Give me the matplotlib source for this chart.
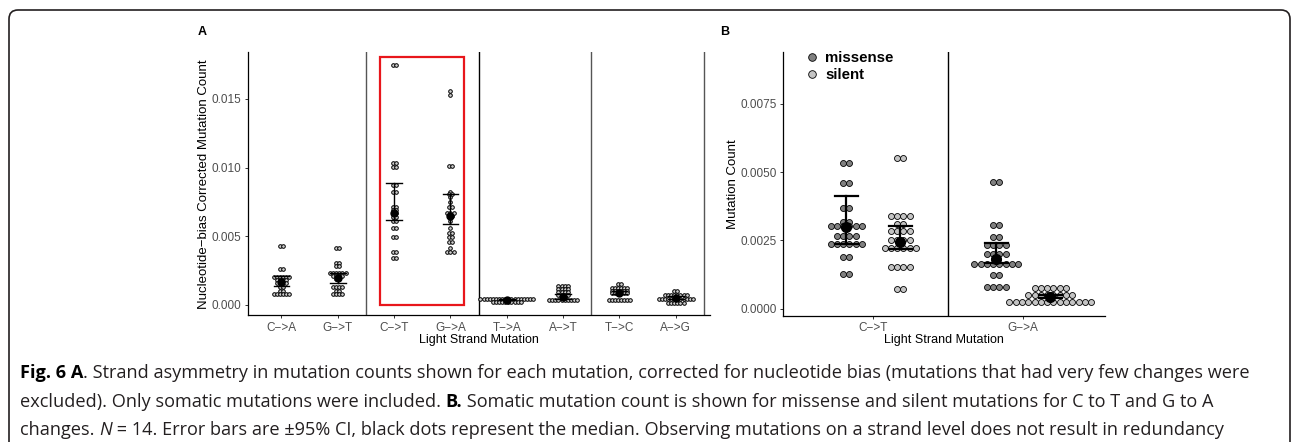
import matplotlib
matplotlib.use('Agg')
import matplotlib.pyplot as plt
from matplotlib.patches import FancyBboxPatch, Rectangle
from matplotlib.lines import Line2D
import numpy as np

# ---------------- data ----------------
a_categories = ["C\u2212>A", "G\u2212>T", "C\u2212>T", "G\u2212>A", "T\u2212>A", "A\u2212>T", "T\u2212>C", "A\u2212>G"]

a_CA_vals = [0.00432, 0.00260, 0.00206, 0.00182, 0.00158, 0.00133, 0.00104, 0.00080]
a_CA_counts = [2, 2, 6, 4, 4, 2, 2, 6]
a_GT_vals = [0.00417, 0.00308, 0.00284, 0.00235, 0.00211, 0.00190, 0.00133, 0.00104, 0.00080]
a_GT_counts = [2, 2, 2, 6, 4, 2, 4, 2, 4]
a_CT_vals = [0.01748, 0.01036, 0.01003, 0.00876, 0.00820, 0.00716, 0.00692, 0.00672,
             0.00643, 0.00614, 0.00563, 0.00493, 0.00384, 0.00344]
a_CT_counts = [2, 2, 2, 2, 2, 2, 2, 2, 2, 2, 2, 2, 2, 2]
a_GA_vals = [0.01561, 0.01529, 0.01014, 0.00825, 0.00808, 0.00789, 0.00748, 0.00711, 0.00668,
             0.00650, 0.00612, 0.00558, 0.00522, 0.00493, 0.00457, 0.00413, 0.00388]
a_GA_counts = [1, 1, 2, 1, 2, 1, 1, 2, 3, 2, 1, 1, 2, 2, 2, 1, 3]
a_TA_vals = [0.000415, 0.00020]
a_TA_counts = [18, 10]
a_AT_vals = [0.00136, 0.00114, 0.00092, 0.00073, 0.00056, 0.00036]
a_AT_counts = [4, 4, 4, 4, 2, 10]
a_TC_vals = [0.00153, 0.00122, 0.00105, 0.00088, 0.00040]
a_TC_counts = [2, 6, 6, 6, 8]
a_AG_vals = [0.00104, 0.00070, 0.00046, 0.00017]
a_AG_counts = [2, 8, 12, 6]

a_median = [0.00165, 0.00194, 0.00672, 0.00650, 0.00040, 0.00060, 0.00090, 0.00053]
a_ci_low = [0.00141, 0.00160, 0.00619, 0.00587, 0.00033, 0.00045, 0.00078, 0.00045]
a_ci_high = [0.00211, 0.00235, 0.00891, 0.00808, 0.00047, 0.00080, 0.00102, 0.00062]

b_categories = ["C\u2212>T", "G\u2212>A"]
b_groups = ["missense", "silent"]

b_mis_CT_vals = [0.00532, 0.00459, 0.00367, 0.00318, 0.00304, 0.00267, 0.00237, 0.00190, 0.00127]
b_mis_CT_counts = [2, 2, 2, 2, 6, 4, 6, 2, 2]
b_sil_CT_vals = [0.00550, 0.00339, 0.00310, 0.00285, 0.00251, 0.00222, 0.00154, 0.00073]
b_sil_CT_counts = [2, 4, 2, 4, 4, 6, 4, 2]
b_mis_GA_vals = [0.00465, 0.00306, 0.00263, 0.00233, 0.00199, 0.00162, 0.00123, 0.00080]
b_mis_GA_counts = [2, 2, 2, 4, 4, 8, 2, 4]
b_sil_GA_vals = [0.00074, 0.00050, 0.00026]
b_sil_GA_counts = [6, 8, 14]

b_mis_median = [0.00298, 0.00180]
b_mis_ci_low = [0.00237, 0.00166]
b_mis_ci_high = [0.00413, 0.00239]
b_sil_median = [0.00245, 0.00044]
b_sil_ci_low = [0.00219, 0.00038]
b_sil_ci_high = [0.00304, 0.00050]

caption_lines = [
    [("Fig. 6 A", "bold"), (". Strand asymmetry in mutation counts shown for each mutation, corrected for nucleotide bias (mutations that had very few changes were", "normal")],
    [("excluded). Only somatic mutations were included. ", "normal"), ("B.", "bold"), (" Somatic mutation count is shown for missense and silent mutations for C to T and G to A", "normal")],
    [("changes. ", "normal"), ("N", "italic"), (" = 14. Error bars are \u00b195% CI, black dots represent the median. Observing mutations on a strand level does not result in redundancy", "normal")],
]

# ---------------- figure ----------------
W, H = 1292, 442
fig = plt.figure(figsize=(W / 100, H / 100), dpi=100)
plt.rcParams['font.family'] = ['Liberation Sans', 'DejaVu Sans']

def ax_px(l, t, r, b):
    return fig.add_axes([l / W, 1 - b / H, (r - l) / W, (b - t) / H])

def dotstack(ax, xc, vals, counts, spacing, **kw):
    for v, n in zip(vals, counts):
        offs = (np.arange(n) - (n - 1) / 2.0) * spacing
        ax.plot(xc + offs, [v] * n, linestyle='none', marker='o', clip_on=False, **kw)

def style_axis(ax):
    for s in ['top', 'right']:
        ax.spines[s].set_visible(False)
    for s in ['left', 'bottom']:
        ax.spines[s].set_linewidth(0.9)
        ax.spines[s].set_color('black')
    ax.tick_params(axis='both', length=2.5, width=0.7, color='#333333',
                   labelsize=8.5, labelcolor='#4d4d4d', pad=2)

# border
border = FancyBboxPatch((9, -30), 1290 - 9, 442 - 10 + 30,
                        boxstyle="round,pad=0,rounding_size=9",
                        transform=None, fill=False, edgecolor='#231f20', linewidth=1.2)
fig.patches.append(border)

# ---------------- panel A ----------------
axA = ax_px(247.7, 52.3, 709.6, 315.3)
axA.set_xlim(0.4, 8.6)
axA.set_ylim(-0.00075, 0.0184)
style_axis(axA)
axA.set_xticks(np.arange(1, len(a_categories) + 1))
axA.set_xticklabels(a_categories)
axA.set_yticks([0.0, 0.005, 0.010, 0.015])
axA.set_yticklabels(["0.000", "0.005", "0.010", "0.015"])

for xv, col in zip([2.5, 4.5, 6.5, 8.5], ['#555555', 'black', '#555555', '#555555']):
    axA.axvline(xv, color=col, lw=1.0)

a_series = [(a_CA_vals, a_CA_counts), (a_GT_vals, a_GT_counts), (a_CT_vals, a_CT_counts),
            (a_GA_vals, a_GA_counts), (a_TA_vals, a_TA_counts), (a_AT_vals, a_AT_counts),
            (a_TC_vals, a_TC_counts), (a_AG_vals, a_AG_counts)]
for i, (vals, counts) in enumerate(a_series):
    xc = i + 1
    dotstack(axA, xc, vals, counts, 0.055, ms=2.6, mfc='#cfcfcf', mec='black', mew=0.7)
    axA.plot([xc, xc], [a_ci_low[i], a_ci_high[i]], color='black', lw=1.0, zorder=4)
    for yv in (a_ci_low[i], a_ci_high[i]):
        axA.plot([xc - 0.14, xc + 0.14], [yv, yv], color='black', lw=1.0, zorder=4)
    axA.plot([xc], [a_median[i]], marker='o', ms=5, color='black', zorder=5)

axA.add_patch(Rectangle((2.75, 0.0), 4.245 - 2.75, 0.01808, fill=False,
                        edgecolor='#e8161b', lw=1.6, zorder=6))

fig.text(204 / W, 1 - 184 / H, "Nucleotide\u2212bias Corrected Mutation Count",
         rotation=90, ha='center', va='center', fontsize=9.5, color='black')
fig.text(478.6 / W, 1 - 340 / H, "Light Strand Mutation", ha='center', va='center',
         fontsize=9, color='black')
fig.text(202 / W, 1 - 32 / H, "A", ha='center', va='center', fontsize=9, fontweight='bold')

# ---------------- panel B ----------------
axB = ax_px(783.3, 52.3, 1105, 315.7)
axB.set_xlim(0.4, 2.545)
axB.set_ylim(-0.000256, 0.00938)
style_axis(axB)
axB.set_xticks([1, 2])
axB.set_xticklabels(b_categories)
axB.set_yticks([0.0, 0.0025, 0.005, 0.0075])
axB.set_yticklabels(["0.0000", "0.0025", "0.0050", "0.0075"])
axB.axvline(1.5, color='black', lw=1.0)

mis_color = '#808080'
sil_color = '#c4c4c4'
dodge = 0.18
b_mis = [(b_mis_CT_vals, b_mis_CT_counts), (b_mis_GA_vals, b_mis_GA_counts)]
b_sil = [(b_sil_CT_vals, b_sil_CT_counts), (b_sil_GA_vals, b_sil_GA_counts)]
for i in range(2):
    for series, sign, color, med, lo, hi in [
        (b_mis[i], -1, mis_color, b_mis_median[i], b_mis_ci_low[i], b_mis_ci_high[i]),
        (b_sil[i], 1, sil_color, b_sil_median[i], b_sil_ci_low[i], b_sil_ci_high[i])]:
        xc = i + 1 + sign * dodge
        dotstack(axB, xc, series[0], series[1], 0.042, ms=4.3, mfc=color, mec='black', mew=0.6)
        axB.plot([xc, xc], [lo, hi], color='black', lw=1.6, zorder=4)
        for yv in (lo, hi):
            axB.plot([xc - 0.075, xc + 0.075], [yv, yv], color='black', lw=1.6, zorder=4)
        axB.plot([xc], [med], marker='o', ms=7, color='black', zorder=5)

handles = [Line2D([], [], linestyle='none', marker='o', ms=5.5, mfc=mis_color, mec='black', mew=0.6),
           Line2D([], [], linestyle='none', marker='o', ms=5.5, mfc=sil_color, mec='black', mew=0.6)]
axB.legend(handles, b_groups, loc='upper left', bbox_to_anchor=((805 - 783.3) / 321.7, 1.0 + 1.0 / 263.4),
           frameon=False, prop={'weight': 'bold', 'size': 10.8}, handlelength=0.9,
           handletextpad=0.45, labelspacing=0.2, borderpad=0, borderaxespad=0)

fig.text(733 / W, 1 - 184 / H, "Mutation Count", rotation=90, ha='center', va='center',
         fontsize=9.5, color='black')
fig.text(944 / W, 1 - 340 / H, "Light Strand Mutation", ha='center', va='center',
         fontsize=9, color='black')
fig.text(725 / W, 1 - 32 / H, "B", ha='center', va='center', fontsize=9, fontweight='bold')

# ---------------- caption ----------------
cap_family = ['Liberation Sans Narrow', 'Open Sans', 'DejaVu Sans']
renderer = fig.canvas.get_renderer()

def piece_width(txt, style, size):
    kw = dict(fontsize=size, family=cap_family)
    if style == 'bold':
        kw['fontweight'] = 'bold'
    if style == 'italic':
        kw['fontstyle'] = 'italic'
    t1 = fig.text(0, 0, txt + "|", **kw)
    t2 = fig.text(0, 0, "|", **kw)
    w = t1.get_window_extent(renderer).width - t2.get_window_extent(renderer).width
    t1.remove(); t2.remove()
    return w

base = 10.0
w0 = sum(piece_width(t, s, base) for t, s in caption_lines[0])
cap_size = base * (1252 - 20) / w0

for line, yline in zip(caption_lines, [373, 402, 430]):
    x = 20
    for txt, style in line:
        kw = dict(fontsize=cap_size, family=cap_family, color='#231f20', ha='left', va='center')
        if style == 'bold':
            kw['fontweight'] = 'bold'
            kw['color'] = 'black'
        if style == 'italic':
            kw['fontstyle'] = 'italic'
        fig.text(x / W, 1 - yline / H, txt, **kw)
        x += piece_width(txt, style, cap_size)

fig.savefig('out.png', dpi=100)
